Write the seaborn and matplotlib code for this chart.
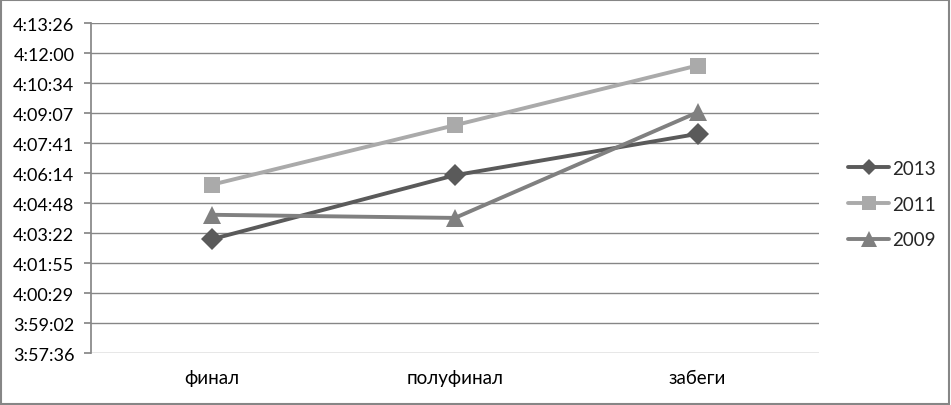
import matplotlib.pyplot as plt
from matplotlib.ticker import FixedLocator, FuncFormatter
import seaborn as sns
import pandas as pd

stages = ["финал", "полуфинал", "забеги"]
years = ["2013", "2011", "2009"]
times_2013 = ["4:03:05", "4:06:09", "4:08:08"]
times_2011 = ["4:05:42", "4:08:33", "4:11:25"]
times_2009 = ["4:04:15", "4:04:06", "4:09:10"]
colors = ["#5a5a5a", "#aaaaaa", "#808080"]
markers = ["D", "s", "^"]


def to_sec(t):
    h, m, s = t.split(":")
    return int(h) * 3600 + int(m) * 60 + int(s)


def fmt_time(v, pos=None):
    v = int(round(v))
    return f"{v // 3600}:{(v % 3600) // 60:02d}:{v % 60:02d}"


rows = []
for year, times in zip(years, [times_2013, times_2011, times_2009]):
    for stage, t in zip(stages, times):
        rows.append({"stage": stage, "year": year, "sec": to_sec(t)})
df = pd.DataFrame(rows)

sns.set_theme(style="white")
plt.rcParams["font.family"] = ["Lato", "DejaVu Sans"]

fig = plt.figure(figsize=(9.51, 4.06), dpi=100)
ax = fig.add_axes([0.0957, 0.1273, 0.861 - 0.0957, 0.940 - 0.1273])

sns.lineplot(data=df, x="stage", y="sec", hue="year", style="year",
             hue_order=years, style_order=years, palette=colors,
             markers=dict(zip(years, markers)), dashes=False,
             linewidth=2.8, markersize=10, markeredgewidth=0,
             sort=False, ax=ax, legend=False)
for line, ms in zip(ax.get_lines(), [11, 12, 13]):
    line.set_markersize(ms)

# y axis: Excel step of 0.001 day
y0 = 0.165 * 86400
step = 0.001 * 86400
yticks = [y0 + k * step for k in range(12)]
ax.set_ylim(yticks[0], yticks[-1])
ax.yaxis.set_major_locator(FixedLocator(yticks))
ax.yaxis.set_major_formatter(FuncFormatter(fmt_time))
ax.set_xlim(-0.5, 2.5)
ax.grid(axis="y", color="#868686", linewidth=1)
ax.set_axisbelow(True)
ax.set_xlabel("")
ax.set_ylabel("")

for side in ["top", "right", "bottom"]:
    ax.spines[side].set_visible(False)
ax.spines["left"].set_color("#868686")
ax.tick_params(axis="y", length=5, color="#868686", direction="out", left=True,
               labelsize=13, pad=7, labelcolor="#000000")
ax.tick_params(axis="x", length=0, labelsize=13.5, pad=11, labelcolor="#000000")

handles = [plt.Line2D([], [], color=c, marker=m, linewidth=2.8,
                      markersize=s, markeredgewidth=0)
           for c, m, s in zip(colors, markers, [8, 10, 11])]
fig.legend(handles, years, loc="center left", bbox_to_anchor=(0.874, 0.495),
           frameon=False, fontsize=13.5, handlelength=2.2, handletextpad=0.15,
           labelspacing=1.0)

fig.patches.append(plt.Rectangle((0.001, 0.002), 0.997, 0.995, transform=fig.transFigure,
                                 fill=False, edgecolor="#868686", linewidth=1.5))

plt.savefig("out.png", dpi=100)
